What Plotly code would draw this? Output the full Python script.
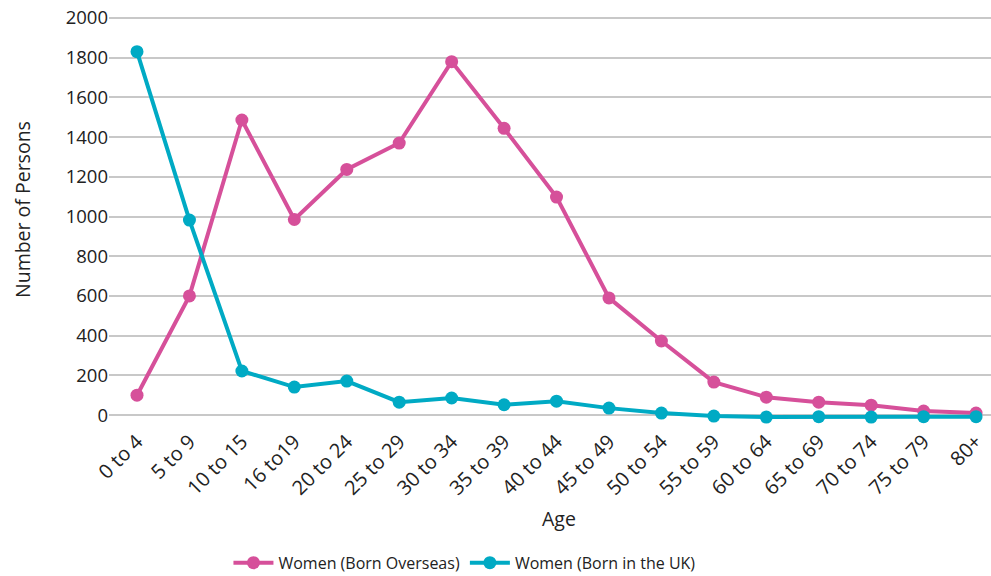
import plotly.graph_objects as go

# Age groups and counts of women by place of birth
age_groups = ["0 to 4", "5 to 9", "10 to 15", "16 to19", "20 to 24", "25 to 29",
              "30 to 34", "35 to 39", "40 to 44", "45 to 49", "50 to 54", "55 to 59",
              "60 to 64", "65 to 69", "70 to 74", "75 to 79", "80+"]
born_overseas = [100, 600, 1486, 985, 1237, 1370, 1780, 1444, 1098, 590, 373, 166,
                 90, 65, 50, 20, 10]
born_uk = [1830, 982, 222, 141, 171, 65, 86, 52, 70, 35, 10, -5, -10, -8, -10, -8, -8]

y_ticks = list(range(0, 2001, 200))

MAGENTA = "#D6509A"
CYAN = "#00AAC4"
TEXT = "#222222"
FONT = "'Open Sans', 'Noto Sans', sans-serif"

x_idx = list(range(len(age_groups)))

fig = go.Figure()
fig.add_trace(go.Scatter(
    x=x_idx, y=born_overseas, name="Women (Born Overseas)",
    mode="lines+markers",
    line=dict(color=MAGENTA, width=4),
    marker=dict(color=MAGENTA, size=13),
))
fig.add_trace(go.Scatter(
    x=x_idx, y=born_uk, name="Women (Born in the UK)",
    mode="lines+markers",
    line=dict(color=CYAN, width=4),
    marker=dict(color=CYAN, size=13),
))

fig.update_layout(
    width=991, height=576,
    margin=dict(l=109, r=0, t=10, b=151),
    plot_bgcolor="white", paper_bgcolor="white",
    font=dict(family=FONT, size=18, color=TEXT),
    showlegend=True,
    legend=dict(orientation="h", x=0.403, xanchor="center",
                yref="container", y=0.023, yanchor="middle",
                font=dict(size=16, color=TEXT), itemwidth=40,
                tracegroupgap=0),
    xaxis=dict(
        range=[-0.534, 16.285], automargin=False,
        tickmode="array", tickvals=x_idx, ticktext=age_groups,
        tickangle=-45, showgrid=False, zeroline=False, showline=False,
        ticks="", tickfont=dict(size=20, color=TEXT),
    ),
    yaxis=dict(
        range=[-50, 2040], automargin=False,
        tickmode="array", tickvals=y_ticks,
        showgrid=True, gridcolor="#C8C8C8", gridwidth=2,
        zeroline=False, showline=False, ticks="",
        tickfont=dict(size=18.5, color=TEXT),
    ),
    annotations=[
        dict(text="Age", xref="paper", yref="paper", x=(559 - 109) / 882,
             y=-(518 - 425) / 415, xanchor="center", yanchor="middle",
             showarrow=False, font=dict(size=19.5, color=TEXT)),
        dict(text="Number of Persons", xref="paper", yref="paper",
             x=-(109 - 22) / 882, y=(425 - 210) / 415, textangle=-90,
             xanchor="center", yanchor="middle",
             showarrow=False, font=dict(size=19.5, color=TEXT)),
    ],
)

fig.write_html("out.html")
